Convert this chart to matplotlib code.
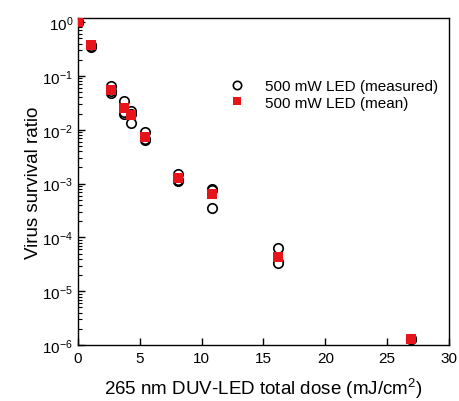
import numpy as np
import matplotlib
matplotlib.use("Agg")
import matplotlib.pyplot as plt
from matplotlib.ticker import NullFormatter

plt.rcParams['font.family'] = ['Liberation Sans', 'DejaVu Sans']
plt.rcParams['mathtext.fontset'] = 'custom'
plt.rcParams['mathtext.rm'] = 'Liberation Sans'
plt.rcParams['mathtext.it'] = 'Liberation Sans:italic'
plt.rcParams['mathtext.bf'] = 'Liberation Sans:bold'

# dose (mJ/cm2) for each cluster
dose = [0.0, 1.08, 2.7, 3.75, 4.27, 5.42, 8.1, 10.8, 16.15, 26.9]
# measured survival ratios, three replicates per dose
meas1 = [1.0, 0.35, 0.066, 0.034, 0.022, 0.0092, 0.0015, 0.00078, 6.3e-5, 1.3e-6]
meas2 = [1.0, 0.38, 0.048, 0.020, 0.020, 0.0065, 0.0011, 0.00076, 3.5e-5, 1.3e-6]
meas3 = [1.0, 0.36, 0.052, 0.021, 0.0135, 0.0068, 0.00115, 0.00035, 3.3e-5, 1.3e-6]
# mean values
mean = [1.0, 0.37, 0.055, 0.025, 0.0185, 0.0075, 0.00125, 0.00063, 4.4e-5, 1.3e-6]
yticks = [1e-6, 1e-5, 1e-4, 1e-3, 1e-2, 1e-1, 1e0]

fig = plt.figure(figsize=(4.6, 4.02), dpi=100)
ax = fig.add_axes([0.1696, 0.139, 0.8064, 0.814])

xs = dose * 3
ys = meas1 + meas2 + meas3
ax.plot(xs, ys, 'o', ms=6.8, mfc='white', mec='black', mew=1.2,
        label='500 mW LED (measured)', zorder=2)
ax.plot(dose, mean, 's', ms=6.5, mfc='#e8141c', mec='#e8141c', mew=0,
        label='500 mW LED (mean)', zorder=3)

ax.set_yscale('log')
ax.set_xlim(0, 30)
ax.set_ylim(1e-6, 1.2)
ax.set_xticks([0, 5, 10, 15, 20, 25, 30])
ax.set_yticks(yticks)
ax.yaxis.set_minor_formatter(NullFormatter())
ax.tick_params(axis='both', which='major', direction='in', length=5, width=1,
               labelsize=11, top=False, right=False)
ax.tick_params(axis='y', which='minor', direction='in', length=3, width=0.8,
               right=False)
ax.tick_params(axis='x', which='major', pad=4)
for sp in ax.spines.values():
    sp.set_linewidth(1.0)

ax.set_xlabel('265 nm DUV-LED total dose (mJ/cm$^2$)', fontsize=13.5, labelpad=8)
ax.set_ylabel('Virus survival ratio', fontsize=13.5, labelpad=0.5)

leg = ax.legend(loc='upper left', bbox_to_anchor=(0.411, 0.8125), frameon=False,
                fontsize=11, handlelength=0.8, handletextpad=1.45,
                labelspacing=0.15, borderaxespad=0, borderpad=0)
leg.legend_handles[0].set_markersize(6)
leg.legend_handles[1].set_markersize(6)

fig.savefig('out.png', dpi=100)
